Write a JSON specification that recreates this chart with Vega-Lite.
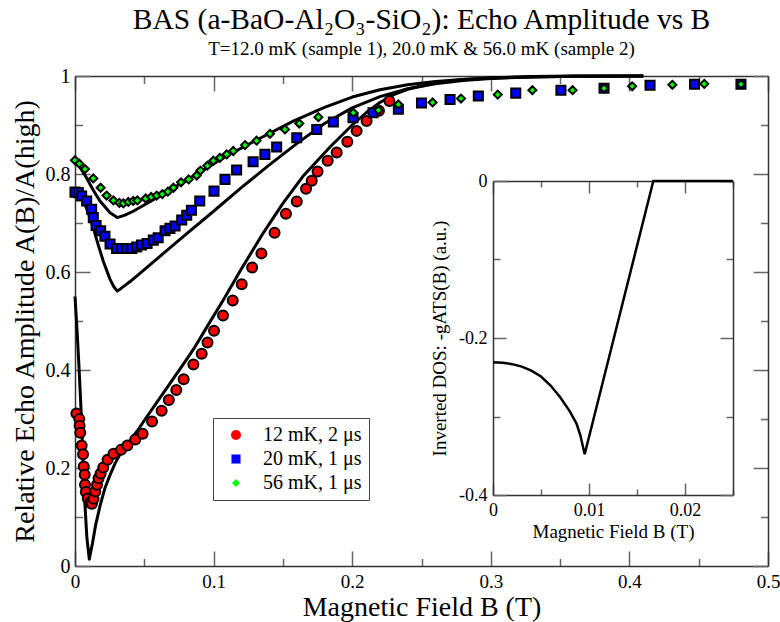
{
  "$schema": "https://vega.github.io/schema/vega-lite/v6.json",
  "width": 693,
  "height": 490,
  "autosize": {"type": "none"},
  "padding": {"left": 75, "top": 76, "right": 12, "bottom": 56},
  "background": "white",
  "title": {
    "text": "BAS (a-BaO-Al₂O₃-SiO₂): Echo Amplitude vs B",
    "subtitle": "T=12.0 mK (sample 1), 20.0 mK & 56.0 mK (sample 2)",
    "font": "Liberation Serif", "fontSize": 29.5, "fontWeight": "normal", "color": "black",
    "subtitleFont": "Liberation Serif", "subtitleFontSize": 19, "subtitleColor": "black",
    "anchor": "middle", "frame": "group", "offset": 6, "subtitlePadding": 5
  },
  "config": {
    "font": "Liberation Serif",
    "view": {"stroke": null},
    "axis": {
      "domainColor": "#333", "domainWidth": 1.5, "tickColor": "#666", "tickWidth": 1.5,
      "labelFont": "Liberation Serif", "titleFont": "Liberation Serif", "labelColor": "black",
      "titleColor": "black", "titleFontWeight": "normal", "grid": false, "labelFlush": false,
      "labelOverlap": false
    },
    "legend": {"labelFont": "Liberation Serif", "labelFontSize": 20, "symbolStrokeColor": "black", "symbolStrokeWidth": 2}
  },
  "datasets": {
    "fits": [
      {"fit": "12", "B": 0, "A": 0.55}, {"fit": "12", "B": 0.0015, "A": 0.48}, {"fit": "12", "B": 0.003, "A": 0.40},
      {"fit": "12", "B": 0.0045, "A": 0.31}, {"fit": "12", "B": 0.0058, "A": 0.22}, {"fit": "12", "B": 0.007, "A": 0.135},
      {"fit": "12", "B": 0.0085, "A": 0.06}, {"fit": "12", "B": 0.0103, "A": 0.014}, {"fit": "12", "B": 0.0125, "A": 0.045},
      {"fit": "12", "B": 0.015, "A": 0.085}, {"fit": "12", "B": 0.018, "A": 0.122}, {"fit": "12", "B": 0.0215, "A": 0.158},
      {"fit": "12", "B": 0.0253, "A": 0.186}, {"fit": "12", "B": 0.029, "A": 0.21}, {"fit": "12", "B": 0.0325, "A": 0.228},
      {"fit": "12", "B": 0.036, "A": 0.242}, {"fit": "12", "B": 0.04, "A": 0.257}, {"fit": "12", "B": 0.045, "A": 0.276},
      {"fit": "12", "B": 0.05, "A": 0.297}, {"fit": "12", "B": 0.0613, "A": 0.343}, {"fit": "12", "B": 0.0782, "A": 0.412},
      {"fit": "12", "B": 0.0854, "A": 0.442}, {"fit": "12", "B": 0.095, "A": 0.487}, {"fit": "12", "B": 0.107, "A": 0.543},
      {"fit": "12", "B": 0.12, "A": 0.606}, {"fit": "12", "B": 0.1359, "A": 0.68}, {"fit": "12", "B": 0.15, "A": 0.74},
      {"fit": "12", "B": 0.165, "A": 0.797}, {"fit": "12", "B": 0.184, "A": 0.855}, {"fit": "12", "B": 0.2, "A": 0.9},
      {"fit": "12", "B": 0.21, "A": 0.925}, {"fit": "12", "B": 0.22, "A": 0.946}, {"fit": "12", "B": 0.23, "A": 0.962},
      {"fit": "12", "B": 0.24, "A": 0.973}, {"fit": "12", "B": 0.26, "A": 0.986}, {"fit": "12", "B": 0.28, "A": 0.993},
      {"fit": "12", "B": 0.3, "A": 0.996}, {"fit": "12", "B": 0.33, "A": 0.999}, {"fit": "12", "B": 0.36, "A": 1.0},
      {"fit": "12", "B": 0.41, "A": 1.0},
      {"fit": "20", "B": 0, "A": 0.765}, {"fit": "20", "B": 0.004, "A": 0.756}, {"fit": "20", "B": 0.0072, "A": 0.738},
      {"fit": "20", "B": 0.0102, "A": 0.716}, {"fit": "20", "B": 0.0132, "A": 0.69}, {"fit": "20", "B": 0.0168, "A": 0.655},
      {"fit": "20", "B": 0.0204, "A": 0.622}, {"fit": "20", "B": 0.0253, "A": 0.585}, {"fit": "20", "B": 0.028, "A": 0.57},
      {"fit": "20", "B": 0.0305, "A": 0.561}, {"fit": "20", "B": 0.033, "A": 0.566}, {"fit": "20", "B": 0.04, "A": 0.581},
      {"fit": "20", "B": 0.06, "A": 0.629}, {"fit": "20", "B": 0.08, "A": 0.677}, {"fit": "20", "B": 0.1, "A": 0.724},
      {"fit": "20", "B": 0.12, "A": 0.772}, {"fit": "20", "B": 0.14, "A": 0.818}, {"fit": "20", "B": 0.16, "A": 0.862},
      {"fit": "20", "B": 0.18, "A": 0.903}, {"fit": "20", "B": 0.2, "A": 0.935}, {"fit": "20", "B": 0.22, "A": 0.958},
      {"fit": "20", "B": 0.24, "A": 0.974}, {"fit": "20", "B": 0.26, "A": 0.984}, {"fit": "20", "B": 0.28, "A": 0.991},
      {"fit": "20", "B": 0.3, "A": 0.995}, {"fit": "20", "B": 0.33, "A": 0.998}, {"fit": "20", "B": 0.36, "A": 0.9995},
      {"fit": "20", "B": 0.41, "A": 1.0},
      {"fit": "56", "B": 0, "A": 0.828}, {"fit": "56", "B": 0.004, "A": 0.812}, {"fit": "56", "B": 0.0084, "A": 0.792},
      {"fit": "56", "B": 0.013, "A": 0.768}, {"fit": "56", "B": 0.018, "A": 0.745}, {"fit": "56", "B": 0.0253, "A": 0.721},
      {"fit": "56", "B": 0.0305, "A": 0.711}, {"fit": "56", "B": 0.036, "A": 0.716}, {"fit": "56", "B": 0.042, "A": 0.724},
      {"fit": "56", "B": 0.0613, "A": 0.755}, {"fit": "56", "B": 0.0854, "A": 0.796}, {"fit": "56", "B": 0.1094, "A": 0.837},
      {"fit": "56", "B": 0.1335, "A": 0.873}, {"fit": "56", "B": 0.1575, "A": 0.908}, {"fit": "56", "B": 0.18, "A": 0.936},
      {"fit": "56", "B": 0.2, "A": 0.957}, {"fit": "56", "B": 0.22, "A": 0.972}, {"fit": "56", "B": 0.24, "A": 0.982},
      {"fit": "56", "B": 0.26, "A": 0.989}, {"fit": "56", "B": 0.28, "A": 0.993}, {"fit": "56", "B": 0.3, "A": 0.996},
      {"fit": "56", "B": 0.33, "A": 0.998}, {"fit": "56", "B": 0.36, "A": 0.9995}, {"fit": "56", "B": 0.41, "A": 1.0}
    ],
    "pts": [
      {"s": "12 mK, 2 μs", "B": 0.001, "A": 0.311}, {"s": "12 mK, 2 μs", "B": 0.0031, "A": 0.300},
      {"s": "12 mK, 2 μs", "B": 0.0033, "A": 0.286}, {"s": "12 mK, 2 μs", "B": 0.0038, "A": 0.272},
      {"s": "12 mK, 2 μs", "B": 0.0048, "A": 0.246}, {"s": "12 mK, 2 μs", "B": 0.0058, "A": 0.228},
      {"s": "12 mK, 2 μs", "B": 0.0063, "A": 0.203}, {"s": "12 mK, 2 μs", "B": 0.007, "A": 0.186},
      {"s": "12 mK, 2 μs", "B": 0.0072, "A": 0.166}, {"s": "12 mK, 2 μs", "B": 0.0078, "A": 0.151},
      {"s": "12 mK, 2 μs", "B": 0.0092, "A": 0.138}, {"s": "12 mK, 2 μs", "B": 0.0108, "A": 0.129},
      {"s": "12 mK, 2 μs", "B": 0.0122, "A": 0.127}, {"s": "12 mK, 2 μs", "B": 0.0134, "A": 0.137},
      {"s": "12 mK, 2 μs", "B": 0.0146, "A": 0.152}, {"s": "12 mK, 2 μs", "B": 0.0159, "A": 0.166},
      {"s": "12 mK, 2 μs", "B": 0.017, "A": 0.179}, {"s": "12 mK, 2 μs", "B": 0.0185, "A": 0.189},
      {"s": "12 mK, 2 μs", "B": 0.0204, "A": 0.201}, {"s": "12 mK, 2 μs", "B": 0.0235, "A": 0.217},
      {"s": "12 mK, 2 μs", "B": 0.0278, "A": 0.229}, {"s": "12 mK, 2 μs", "B": 0.0332, "A": 0.237},
      {"s": "12 mK, 2 μs", "B": 0.0378, "A": 0.246}, {"s": "12 mK, 2 μs", "B": 0.0435, "A": 0.258},
      {"s": "12 mK, 2 μs", "B": 0.0488, "A": 0.270}, {"s": "12 mK, 2 μs", "B": 0.0556, "A": 0.295},
      {"s": "12 mK, 2 μs", "B": 0.0625, "A": 0.317}, {"s": "12 mK, 2 μs", "B": 0.0677, "A": 0.339},
      {"s": "12 mK, 2 μs", "B": 0.0731, "A": 0.359}, {"s": "12 mK, 2 μs", "B": 0.0784, "A": 0.381},
      {"s": "12 mK, 2 μs", "B": 0.0854, "A": 0.411}, {"s": "12 mK, 2 μs", "B": 0.0914, "A": 0.433},
      {"s": "12 mK, 2 μs", "B": 0.0956, "A": 0.456}, {"s": "12 mK, 2 μs", "B": 0.1003, "A": 0.480},
      {"s": "12 mK, 2 μs", "B": 0.1068, "A": 0.511}, {"s": "12 mK, 2 μs", "B": 0.1138, "A": 0.542},
      {"s": "12 mK, 2 μs", "B": 0.1203, "A": 0.575}, {"s": "12 mK, 2 μs", "B": 0.1278, "A": 0.609},
      {"s": "12 mK, 2 μs", "B": 0.1345, "A": 0.638}, {"s": "12 mK, 2 μs", "B": 0.144, "A": 0.680},
      {"s": "12 mK, 2 μs", "B": 0.1522, "A": 0.719}, {"s": "12 mK, 2 μs", "B": 0.16, "A": 0.744},
      {"s": "12 mK, 2 μs", "B": 0.1667, "A": 0.770}, {"s": "12 mK, 2 μs", "B": 0.1708, "A": 0.786},
      {"s": "12 mK, 2 μs", "B": 0.175, "A": 0.805}, {"s": "12 mK, 2 μs", "B": 0.1823, "A": 0.827},
      {"s": "12 mK, 2 μs", "B": 0.1888, "A": 0.844}, {"s": "12 mK, 2 μs", "B": 0.1965, "A": 0.866},
      {"s": "12 mK, 2 μs", "B": 0.2032, "A": 0.888}, {"s": "12 mK, 2 μs", "B": 0.2104, "A": 0.908},
      {"s": "12 mK, 2 μs", "B": 0.2193, "A": 0.929}, {"s": "12 mK, 2 μs", "B": 0.2268, "A": 0.949},
      {"s": "20 mK, 1 μs", "B": 0, "A": 0.763}, {"s": "20 mK, 1 μs", "B": 0.0024, "A": 0.762},
      {"s": "20 mK, 1 μs", "B": 0.0048, "A": 0.755}, {"s": "20 mK, 1 μs", "B": 0.0084, "A": 0.745},
      {"s": "20 mK, 1 μs", "B": 0.012, "A": 0.728}, {"s": "20 mK, 1 μs", "B": 0.0132, "A": 0.711},
      {"s": "20 mK, 1 μs", "B": 0.0152, "A": 0.695}, {"s": "20 mK, 1 μs", "B": 0.0185, "A": 0.684},
      {"s": "20 mK, 1 μs", "B": 0.0216, "A": 0.673}, {"s": "20 mK, 1 μs", "B": 0.0253, "A": 0.657},
      {"s": "20 mK, 1 μs", "B": 0.03, "A": 0.648}, {"s": "20 mK, 1 μs", "B": 0.0337, "A": 0.648},
      {"s": "20 mK, 1 μs", "B": 0.0373, "A": 0.648}, {"s": "20 mK, 1 μs", "B": 0.041, "A": 0.648},
      {"s": "20 mK, 1 μs", "B": 0.0445, "A": 0.651}, {"s": "20 mK, 1 μs", "B": 0.048, "A": 0.655},
      {"s": "20 mK, 1 μs", "B": 0.052, "A": 0.658}, {"s": "20 mK, 1 μs", "B": 0.0565, "A": 0.665},
      {"s": "20 mK, 1 μs", "B": 0.06, "A": 0.670}, {"s": "20 mK, 1 μs", "B": 0.065, "A": 0.684},
      {"s": "20 mK, 1 μs", "B": 0.0685, "A": 0.689}, {"s": "20 mK, 1 μs", "B": 0.0722, "A": 0.694},
      {"s": "20 mK, 1 μs", "B": 0.077, "A": 0.706}, {"s": "20 mK, 1 μs", "B": 0.0806, "A": 0.716},
      {"s": "20 mK, 1 μs", "B": 0.084, "A": 0.726}, {"s": "20 mK, 1 μs", "B": 0.09, "A": 0.745},
      {"s": "20 mK, 1 μs", "B": 0.1003, "A": 0.765}, {"s": "20 mK, 1 μs", "B": 0.1082, "A": 0.789},
      {"s": "20 mK, 1 μs", "B": 0.1166, "A": 0.808}, {"s": "20 mK, 1 μs", "B": 0.1285, "A": 0.825},
      {"s": "20 mK, 1 μs", "B": 0.137, "A": 0.840}, {"s": "20 mK, 1 μs", "B": 0.1455, "A": 0.855},
      {"s": "20 mK, 1 μs", "B": 0.16, "A": 0.874}, {"s": "20 mK, 1 μs", "B": 0.1744, "A": 0.891},
      {"s": "20 mK, 1 μs", "B": 0.1864, "A": 0.906}, {"s": "20 mK, 1 μs", "B": 0.2006, "A": 0.915},
      {"s": "20 mK, 1 μs", "B": 0.215, "A": 0.925}, {"s": "20 mK, 1 μs", "B": 0.2333, "A": 0.932},
      {"s": "20 mK, 1 μs", "B": 0.25, "A": 0.945}, {"s": "20 mK, 1 μs", "B": 0.2706, "A": 0.952},
      {"s": "20 mK, 1 μs", "B": 0.291, "A": 0.959}, {"s": "20 mK, 1 μs", "B": 0.318, "A": 0.965},
      {"s": "20 mK, 1 μs", "B": 0.3506, "A": 0.971}, {"s": "20 mK, 1 μs", "B": 0.3817, "A": 0.975},
      {"s": "20 mK, 1 μs", "B": 0.4149, "A": 0.981}, {"s": "20 mK, 1 μs", "B": 0.447, "A": 0.983},
      {"s": "20 mK, 1 μs", "B": 0.4805, "A": 0.983},
      {"s": "56 mK, 1 μs", "B": 0, "A": 0.828}, {"s": "56 mK, 1 μs", "B": 0.0031, "A": 0.821},
      {"s": "56 mK, 1 μs", "B": 0.0072, "A": 0.810}, {"s": "56 mK, 1 μs", "B": 0.0132, "A": 0.791},
      {"s": "56 mK, 1 μs", "B": 0.0185, "A": 0.772}, {"s": "56 mK, 1 μs", "B": 0.0228, "A": 0.756},
      {"s": "56 mK, 1 μs", "B": 0.0277, "A": 0.746}, {"s": "56 mK, 1 μs", "B": 0.032, "A": 0.741},
      {"s": "56 mK, 1 μs", "B": 0.0349, "A": 0.740}, {"s": "56 mK, 1 μs", "B": 0.0385, "A": 0.743},
      {"s": "56 mK, 1 μs", "B": 0.042, "A": 0.745}, {"s": "56 mK, 1 μs", "B": 0.045, "A": 0.746},
      {"s": "56 mK, 1 μs", "B": 0.051, "A": 0.750}, {"s": "56 mK, 1 μs", "B": 0.055, "A": 0.753},
      {"s": "56 mK, 1 μs", "B": 0.059, "A": 0.756}, {"s": "56 mK, 1 μs", "B": 0.063, "A": 0.759},
      {"s": "56 mK, 1 μs", "B": 0.067, "A": 0.764}, {"s": "56 mK, 1 μs", "B": 0.071, "A": 0.772},
      {"s": "56 mK, 1 μs", "B": 0.0765, "A": 0.783}, {"s": "56 mK, 1 μs", "B": 0.082, "A": 0.789},
      {"s": "56 mK, 1 μs", "B": 0.0878, "A": 0.797}, {"s": "56 mK, 1 μs", "B": 0.0905, "A": 0.807},
      {"s": "56 mK, 1 μs", "B": 0.0955, "A": 0.817}, {"s": "56 mK, 1 μs", "B": 0.0998, "A": 0.827},
      {"s": "56 mK, 1 μs", "B": 0.1046, "A": 0.833}, {"s": "56 mK, 1 μs", "B": 0.1094, "A": 0.840},
      {"s": "56 mK, 1 μs", "B": 0.1142, "A": 0.847}, {"s": "56 mK, 1 μs", "B": 0.1227, "A": 0.859},
      {"s": "56 mK, 1 μs", "B": 0.131, "A": 0.868}, {"s": "56 mK, 1 μs", "B": 0.1407, "A": 0.882},
      {"s": "56 mK, 1 μs", "B": 0.1515, "A": 0.891}, {"s": "56 mK, 1 μs", "B": 0.1618, "A": 0.903},
      {"s": "56 mK, 1 μs", "B": 0.1756, "A": 0.916}, {"s": "56 mK, 1 μs", "B": 0.2008, "A": 0.925},
      {"s": "56 mK, 1 μs", "B": 0.2189, "A": 0.930}, {"s": "56 mK, 1 μs", "B": 0.2333, "A": 0.942},
      {"s": "56 mK, 1 μs", "B": 0.258, "A": 0.946}, {"s": "56 mK, 1 μs", "B": 0.2785, "A": 0.954},
      {"s": "56 mK, 1 μs", "B": 0.305, "A": 0.962}, {"s": "56 mK, 1 μs", "B": 0.33, "A": 0.971},
      {"s": "56 mK, 1 μs", "B": 0.359, "A": 0.971}, {"s": "56 mK, 1 μs", "B": 0.3817, "A": 0.975},
      {"s": "56 mK, 1 μs", "B": 0.402, "A": 0.979}, {"s": "56 mK, 1 μs", "B": 0.431, "A": 0.982},
      {"s": "56 mK, 1 μs", "B": 0.454, "A": 0.984}, {"s": "56 mK, 1 μs", "B": 0.4805, "A": 0.983}
    ],
    "dos": [
      {"B": 0, "g": -0.231}, {"B": 0.001, "g": -0.2316}, {"B": 0.002, "g": -0.2333},
      {"B": 0.003, "g": -0.2365}, {"B": 0.004, "g": -0.2415}, {"B": 0.005, "g": -0.249},
      {"B": 0.006, "g": -0.2605}, {"B": 0.007, "g": -0.2755}, {"B": 0.008, "g": -0.2935},
      {"B": 0.0087, "g": -0.309}, {"B": 0.0091, "g": -0.324}, {"B": 0.00955, "g": -0.348},
      {"B": 0.0167, "g": 0}, {"B": 0.025, "g": 0}
    ]
  },
  "layer": [
    {
      "data": {"name": "fits"},
      "mark": {"type": "line", "color": "black", "strokeWidth": 3, "strokeJoin": "round"},
      "encoding": {
        "x": {"field": "B", "type": "quantitative",
          "scale": {"domain": [0, 0.5], "nice": false, "zero": false},
          "axis": {"orient": "bottom", "values": [0, 0.05, 0.1, 0.15, 0.2, 0.25, 0.3, 0.35, 0.4, 0.45, 0.5],
            "title": "Magnetic Field B (T)", "titleFont": "Liberation Serif", "titleFontSize": 28,
            "labelFont": "Liberation Serif", "labelFontSize": 19,
            "tickSize": {"condition": {"test": "abs(round(datum.value*10)-datum.value*10)<0.000001", "value": -15}, "value": -7.5},
            "labelExpr": "abs(round(datum.value*10)-datum.value*10)<0.000001 ? toString(datum.value) : ''",
            "labelPadding": 21, "titlePadding": -5}},
        "y": {"field": "A", "type": "quantitative",
          "scale": {"domain": [0, 1], "nice": false, "zero": false},
          "axis": {"orient": "left", "values": [0, 0.1, 0.2, 0.3, 0.4, 0.5, 0.6, 0.7, 0.8, 0.9, 1],
            "title": "Relative Echo Amplitude A(B)/A(high)", "titleFont": "Liberation Serif", "titleFontSize": 28,
            "labelFont": "Liberation Serif", "labelFontSize": 20,
            "tickSize": {"condition": {"test": "abs(round(datum.value*5)-datum.value*5)<0.000001", "value": -15}, "value": -7.5},
            "labelExpr": "abs(round(datum.value*5)-datum.value*5)<0.000001 ? toString(datum.value) : ''",
            "labelPadding": 20, "titlePadding": 6}},
        "detail": {"field": "fit", "type": "nominal"}
      }
    },
    {
      "data": {"name": "pts"},
      "mark": {"type": "point", "filled": true, "stroke": "black", "strokeWidth": 2, "opacity": 1},
      "encoding": {
        "x": {"field": "B", "type": "quantitative",
          "scale": {"domain": [0, 0.5], "nice": false, "zero": false},
          "axis": {"orient": "top", "values": [0, 0.05, 0.1, 0.15, 0.2, 0.25, 0.3, 0.35, 0.4, 0.45, 0.5],
            "labels": false, "title": null,
            "tickSize": {"condition": {"test": "abs(round(datum.value*10)-datum.value*10)<0.000001", "value": -15}, "value": -7.5}}},
        "y": {"field": "A", "type": "quantitative",
          "scale": {"domain": [0, 1], "nice": false, "zero": false},
          "axis": {"orient": "right", "values": [0, 0.1, 0.2, 0.3, 0.4, 0.5, 0.6, 0.7, 0.8, 0.9, 1],
            "labels": false, "title": null,
            "tickSize": {"condition": {"test": "abs(round(datum.value*5)-datum.value*5)<0.000001", "value": -15}, "value": -7.5}}},
        "fill": {"field": "s", "type": "nominal",
          "scale": {"domain": ["12 mK, 2 μs", "20 mK, 1 μs", "56 mK, 1 μs"], "range": ["#ff0000", "#0000ff", "#00ff00"]},
          "legend": {"title": null, "orient": "none", "legendX": 138, "legendY": 342, "strokeColor": "#444", "fillColor": "white",
            "padding": 7, "symbolOffset": 6, "labelOffset": 17, "labelFont": "Liberation Serif", "labelFontSize": 20,
            "labelColor": "black", "rowPadding": 4,
            "encode": {"symbols": {"stroke": {"value": "black"}, "strokeWidth": {"value": 2}}}}},
        "shape": {"field": "s", "type": "nominal",
          "scale": {"domain": ["12 mK, 2 μs", "20 mK, 1 μs", "56 mK, 1 μs"], "range": ["circle", "square", "diamond"]},
          "legend": {"title": null, "orient": "none", "legendX": 138, "legendY": 342, "strokeColor": "#444", "fillColor": "white",
            "padding": 7, "symbolOffset": 6, "labelOffset": 17, "labelFont": "Liberation Serif", "labelFontSize": 20,
            "labelColor": "black", "rowPadding": 4,
            "encode": {"symbols": {"stroke": {"value": "black"}, "strokeWidth": {"value": 2}}}}},
        "size": {"field": "s", "type": "nominal",
          "scale": {"domain": ["12 mK, 2 μs", "20 mK, 1 μs", "56 mK, 1 μs"], "range": [100, 64, 112]},
          "legend": {"title": null, "orient": "none", "legendX": 138, "legendY": 342, "strokeColor": "#444", "fillColor": "white",
            "padding": 7, "symbolOffset": 6, "labelOffset": 17, "labelFont": "Liberation Serif", "labelFontSize": 20,
            "labelColor": "black", "rowPadding": 4,
            "encode": {"symbols": {"stroke": {"value": "black"}, "strokeWidth": {"value": 2}}}}}
      }
    },
    {
      "data": {"name": "dos"},
      "mark": {"type": "line", "color": "black", "strokeWidth": 2.5},
      "encoding": {
        "x": {"field": "B", "type": "quantitative",
          "scale": {"domain": [0, 0.025], "range": [418, 658], "nice": false, "zero": false},
          "axis": {"orient": "bottom", "offset": -71, "values": [0, 0.005, 0.01, 0.015, 0.02, 0.025],
            "title": "Magnetic Field B (T)", "titleFont": "Liberation Serif", "titleFontSize": 19,
            "labelFont": "Liberation Serif", "labelFontSize": 18,
            "tickSize": {"condition": {"test": "abs(round(datum.value*100)-datum.value*100)<0.000001", "value": -12}, "value": -6},
            "labelExpr": "abs(round(datum.value*100)-datum.value*100)<0.000001 && datum.value < 0.024 ? toString(datum.value) : ''",
            "labelPadding": 18, "titlePadding": -3}},
        "y": {"field": "g", "type": "quantitative",
          "scale": {"domain": [-0.4, 0], "range": [419, 105], "nice": false, "zero": false},
          "axis": {"orient": "left", "offset": -418, "values": [-0.4, -0.3, -0.2, -0.1, 0],
            "title": "Inverted DOS: -gATS(B) (a.u.)", "titleFont": "Liberation Serif", "titleFontSize": 19,
            "labelFont": "Liberation Serif", "labelFontSize": 18,
            "tickSize": {"condition": {"test": "abs(round(datum.value*5)-datum.value*5)<0.000001", "value": -13}, "value": -7},
            "labelExpr": "abs(round(datum.value*5)-datum.value*5)<0.000001 ? toString(datum.value) : ''",
            "labelPadding": 19, "titlePadding": 9}}
      }
    },
    {
      "data": {"name": "dos"},
      "mark": {"type": "point", "opacity": 0},
      "encoding": {
        "x": {"field": "B", "type": "quantitative",
          "scale": {"domain": [0, 0.025], "range": [418, 658], "nice": false, "zero": false},
          "axis": {"orient": "top", "offset": -105, "values": [0, 0.005, 0.01, 0.015, 0.02, 0.025],
            "labels": false, "title": null,
            "tickSize": {"condition": {"test": "abs(round(datum.value*100)-datum.value*100)<0.000001", "value": -12}, "value": -6}}},
        "y": {"field": "g", "type": "quantitative",
          "scale": {"domain": [-0.4, 0], "range": [419, 105], "nice": false, "zero": false},
          "axis": {"orient": "right", "offset": -35, "values": [-0.4, -0.3, -0.2, -0.1, 0],
            "labels": false, "title": null,
            "tickSize": {"condition": {"test": "abs(round(datum.value*5)-datum.value*5)<0.000001", "value": -13}, "value": -7}}}
      }
    }
  ],
  "resolve": {"scale": {"x": "independent", "y": "independent"}, "axis": {"x": "independent", "y": "independent"}}
}
